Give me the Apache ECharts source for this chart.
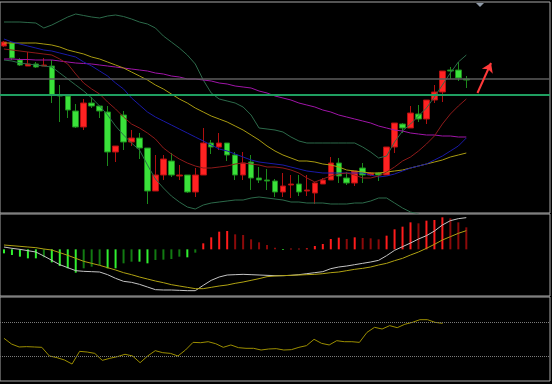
<!DOCTYPE html>
<html><head><meta charset="utf-8">
<script src="https://cdn.jsdelivr.net/npm/echarts@6/dist/echarts.min.js"></script>
<style>html,body{margin:0;padding:0;background:#000;}#c{width:552px;height:384px;}</style>
</head><body><div id="c"></div>
<script>
// category slots (59 trading days + empty space on the right)
const days = Array.from({length: 69}, (_, i) => 'D' + (i + 1));

// candles: [open, close, low, high]
const candles = [
 [18.4,18.8,18.3,18.9],[18.7,17.2,17.0,18.7],[17.0,16.5,16.4,17.2],[16.4,16.6,16.4,17.8],[16.6,16.3,16.2,16.8],
 [16.4,16.5,16.4,17.2],[16.4,13.5,12.7,17.0],[13.5,13.4,10.8,14.5],[13.4,12.0,11.2,13.5],[11.9,10.3,10.2,12.6],
 [10.3,12.7,10.0,13.1],[12.7,12.4,12.2,13.3],[12.4,11.9,11.2,12.4],[11.8,7.8,6.4,12.4],[7.8,8.4,6.8,8.4],
 [11.5,8.8,8.0,11.9],[8.8,9.2,8.4,10.0],[9.2,8.2,7.1,9.7],[8.2,3.9,2.6,8.2],[3.9,5.5,3.9,7.5],
 [5.5,7.1,5.0,7.5],[6.9,5.5,5.3,7.7],[5.4,5.5,5.0,6.5],[5.5,3.8,3.7,5.5],[3.8,5.5,3.3,6.2],
 [5.5,8.7,5.5,10.2],[8.7,8.3,7.6,9.0],[8.3,8.7,8.0,9.7],[8.7,7.5,6.9,8.7],[7.5,5.5,5.0,7.8],
 [5.5,6.7,5.0,7.8],[6.8,5.2,4.0,7.5],[5.2,5.0,4.7,6.3],[5.0,4.9,4.0,6.1],[4.9,3.8,3.3,5.1],
 [3.8,4.4,3.3,5.7],[4.5,4.6,3.2,5.5],[4.6,3.8,3.4,5.5],[3.9,4.0,3.4,5.5],[3.7,4.7,2.6,4.8],
 [4.6,5.0,4.6,5.2],[5.0,6.7,5.0,7.3],[6.7,5.4,4.7,7.2],[5.2,4.7,4.5,5.8],[4.7,5.9,4.4,5.9],
 [6.2,5.5,4.7,6.7],[5.5,5.7,5.4,5.8],[5.7,5.5,4.9,5.8],[5.5,8.3,5.5,8.3],[8.3,10.7,7.7,10.7],
 [10.6,10.2,9.7,10.7],[10.2,11.7,10.2,12.4],[11.6,11.1,10.8,12.5],[11.1,13.0,10.6,13.0],[13.0,13.8,12.7,14.5],
 [13.8,15.9,12.8,15.9],[16.0,15.9,15.1,16.3],[16.0,15.2,14.9,16.8],[15.1,15.0,14.2,15.4]
];

const bollUpper = [20.8,20.8,20.8,20.75,20.7,20.2,20.5,20.9,21.3,21.6,21.45,21.3,21.2,21.4,21.5,21.35,21.1,20.8,20.6,20.2,
 19.4,18.8,18.2,17.5,16.6,15.0,13.7,13.1,12.9,12.7,12.3,11.5,10.2,10.1,10.0,9.8,9.3,8.9,8.7,8.7,
 8.7,8.7,8.7,8.7,8.7,8.3,7.8,7.2,7.4,8.8,9.9,10.6,11.4,12.2,13.3,14.5,15.7,16.8,17.5];
const bollLower = [17.0,16.9,16.7,16.6,16.5,16.4,16.3,15.7,15.1,14.5,13.9,13.2,12.4,11.5,10.4,9.5,8.7,8.0,6.5,5.1,
 4.2,3.4,2.8,2.3,2.1,2.5,2.7,2.8,2.9,3.0,3.0,3.2,3.3,3.2,3.1,3.0,2.8,2.8,2.7,2.7,
 2.7,2.6,2.6,2.6,2.7,2.7,2.9,3.2,3.2,2.7,2.2,1.8,1.6,1.2,1.0,0.5,0.3,0.2,0.8];
const bollMid = [19.1,18.8,18.6,18.4,18.2,18.0,17.9,17.7,17.5,17.3,16.8,16.4,15.9,15.4,14.7,14.1,13.2,12.5,11.8,11.3,
 10.9,10.5,10.1,9.7,9.3,8.9,8.5,8.1,7.9,7.6,7.3,7.0,6.8,6.7,6.6,6.5,6.3,6.1,5.9,5.8,
 5.7,5.7,5.7,5.7,5.7,5.7,5.5,5.3,5.4,5.6,5.9,6.2,6.4,6.6,7.0,7.4,7.9,8.4,9.2];
const maShort = [18.1,18.0,17.9,17.8,17.7,17.6,17.5,17.1,16.6,15.6,14.7,14.1,13.6,12.8,12.1,11.3,10.6,10.2,9.7,9.1,
 8.2,7.6,7.1,6.7,6.4,6.2,6.2,6.3,6.4,6.6,6.7,6.6,6.5,6.3,6.3,6.2,6.0,5.7,5.2,4.8,
 5.1,5.4,5.6,5.7,5.5,5.2,5.2,5.4,5.8,6.3,6.9,7.3,7.9,8.6,9.4,10.6,11.6,12.4,13.1];
const maMid = [18.7,18.7,18.7,18.7,18.7,18.6,18.5,18.3,18.0,17.8,17.6,17.3,17.1,16.8,16.5,16.2,15.8,15.4,15.0,14.5,
 14.1,13.6,13.1,12.7,12.2,11.8,11.4,11.1,10.8,10.4,10.0,9.5,9.0,8.4,7.9,7.5,7.2,6.9,6.9,6.8,
 6.6,6.5,6.3,6.0,5.9,5.8,5.7,5.7,5.8,5.9,6.0,6.2,6.4,6.6,6.8,7.0,7.3,7.5,7.7];
const maLong = [17.1,17.1,17.05,17.05,17.0,17.0,17.0,16.9,16.8,16.7,16.65,16.6,16.5,16.4,16.3,16.2,16.1,16.0,15.9,15.7,
 15.6,15.4,15.3,15.1,15.1,15.0,14.9,14.7,14.6,14.4,14.3,14.2,13.9,13.7,13.4,13.2,13.0,12.7,12.5,12.3,
 12.0,11.8,11.5,11.3,11.1,10.9,10.7,10.4,10.2,10.0,9.9,9.7,9.6,9.5,9.5,9.4,9.4,9.3,9.3];
const levelGray = 15.1;
const levelGreen = 13.5;

// MACD
const dif = [0.07,0.03,0.00,-0.04,-0.08,-0.20,-0.33,-0.46,-0.55,-0.64,-0.66,-0.67,-0.68,-0.76,-0.87,-0.96,-0.99,-1.05,-1.13,-1.21,
 -1.22,-1.22,-1.23,-1.24,-1.24,-1.08,-0.93,-0.83,-0.77,-0.76,-0.75,-0.76,-0.77,-0.78,-0.79,-0.79,-0.78,-0.76,-0.73,-0.70,
 -0.67,-0.58,-0.53,-0.50,-0.46,-0.42,-0.38,-0.33,-0.19,-0.03,0.08,0.19,0.31,0.41,0.55,0.73,0.86,0.92,0.95];
const dea = [0.13,0.11,0.09,0.07,0.05,0.01,-0.02,-0.10,-0.18,-0.27,-0.36,-0.42,-0.48,-0.55,-0.62,-0.70,-0.76,-0.83,-0.89,-0.95,
 -1.00,-1.06,-1.10,-1.14,-1.18,-1.18,-1.14,-1.10,-1.07,-1.02,-0.98,-0.93,-0.88,-0.82,-0.80,-0.79,-0.78,-0.77,-0.76,-0.75,
 -0.73,-0.70,-0.68,-0.64,-0.60,-0.57,-0.53,-0.47,-0.42,-0.34,-0.27,-0.17,-0.08,0.03,0.15,0.28,0.38,0.48,0.56];
const macdHist = [-0.12,-0.17,-0.22,-0.27,-0.27,-0.24,-0.39,-0.50,-0.57,-0.70,-0.57,-0.52,-0.47,-0.57,-0.57,-0.42,-0.37,-0.37,-0.42,-0.32,
 -0.31,-0.29,-0.22,-0.24,-0.10,0.18,0.36,0.53,0.55,0.45,0.43,0.30,0.21,0.13,0.05,-0.02,0.02,0.02,0.03,0.10,
 0.16,0.31,0.35,0.31,0.36,0.34,0.33,0.30,0.41,0.60,0.68,0.81,0.78,0.86,0.88,0.96,0.93,0.81,0.66];

// RSI
const rsi = [50.8,44.0,40.5,40.9,40.5,40.1,29.8,27.8,25.0,20.2,35.3,34.5,32.9,24.6,27.0,29.0,31.8,29.8,21.8,29.8,
 36.1,33.7,32.9,29.8,36.9,46.0,45.6,46.8,44.4,40.1,42.9,39.7,38.9,38.9,36.9,38.1,38.5,36.9,37.3,40.1,
 42.1,49.6,44.8,42.9,48.0,46.8,46.8,46.0,57.9,63.9,61.9,65.9,63.5,67.5,69.8,73.0,73.0,69.8,68.7];
const rsiLevels = [70, 30];

// arrow annotation (in bar-slot units, price units)
const arrowFrom = [59.4, 13.7];
const arrowTo = [61.1, 16.7];

function histColor(i) {
  const v = macdHist[i], p = i > 0 ? macdHist[i - 1] : 0;
  const growing = Math.abs(v) >= Math.abs(p) || (v * p < 0);
  if (v >= 0) return growing ? '#ff1c1c' : '#8c0a0a';
  return growing ? '#30f030' : '#127a12';
}

const hiddenCat = {type: 'category', data: days, boundaryGap: true, axisLine: {show: false}, axisTick: {show: false}, axisLabel: {show: false}, splitLine: {show: false}};
const lineBase = {type: 'line', symbol: 'none', xAxisIndex: 0, yAxisIndex: 0, silent: true, clip: true};

const chart = echarts.init(document.getElementById('c'));
chart.setOption({
  backgroundColor: '#000',
  animation: false,
  grid: [
    {left: -2, top: 2, width: 552, height: 211, show: true, borderColor: '#a8a8a8', borderWidth: 1},
    {left: -2, top: 214, width: 552, height: 82, show: true, borderColor: '#a8a8a8', borderWidth: 1},
    {left: -2, top: 297, width: 552, height: 84, show: true, borderColor: '#a8a8a8', borderWidth: 1}
  ],
  xAxis: [
    Object.assign({gridIndex: 0}, hiddenCat),
    {type: 'value', gridIndex: 0, min: -0.5, max: 68.5, show: false},
    Object.assign({gridIndex: 1}, hiddenCat),
    {type: 'value', gridIndex: 2, min: -0.527, max: 72.2, show: false}
  ],
  yAxis: [
    {type: 'value', gridIndex: 0, min: 1.7, max: 22.8, show: false},
    {type: 'value', gridIndex: 1, min: -1.40, max: 1.06, show: false},
    {type: 'value', gridIndex: 2, min: 0, max: 100, show: false}
  ],
  graphic: [{
    type: 'polygon', shape: {points: [[476, 3], [484, 3], [480, 7]]},
    style: {fill: '#8f9aa8'}
  }],
  series: [
    {
      type: 'candlestick', xAxisIndex: 0, yAxisIndex: 0, data: candles, barWidth: 6, silent: true,
      itemStyle: {color: '#ff2222', color0: '#3ae23a', borderColor: '#b01010', borderColor0: '#1c8a1c', borderWidth: 1},
      markLine: {
        silent: true, symbol: ['none', 'none'], label: {show: false},
        data: [
          {yAxis: levelGray, lineStyle: {color: '#5c5c5c', width: 1.5, type: 'solid'}},
          {yAxis: levelGreen, lineStyle: {color: '#1f9e60', width: 2, type: 'solid'}}
        ]
      }
    },
    Object.assign({}, lineBase, {data: bollUpper, lineStyle: {color: '#2c6a4a', width: 1}}),
    Object.assign({}, lineBase, {data: bollLower, lineStyle: {color: '#2c6a4a', width: 1}}),
    Object.assign({}, lineBase, {data: maLong, lineStyle: {color: '#a015a8', width: 1}}),
    Object.assign({}, lineBase, {data: maMid, lineStyle: {color: '#a89a10', width: 1}}),
    Object.assign({}, lineBase, {data: bollMid, lineStyle: {color: '#1a1aa8', width: 1}}),
    Object.assign({}, lineBase, {data: maShort, lineStyle: {color: '#8e1a1a', width: 1}}),
    {
      type: 'line', xAxisIndex: 1, yAxisIndex: 0, data: [], symbol: 'none', silent: true,
      markLine: {
        silent: true, symbol: ['none', 'arrow'], symbolSize: 9, label: {show: false},
        lineStyle: {color: '#ff3a3a', width: 2, type: 'solid'},
        data: [[{coord: arrowFrom}, {coord: arrowTo}]]
      }
    },
    {
      type: 'bar', xAxisIndex: 2, yAxisIndex: 1, barWidth: 2, silent: true,
      data: macdHist.map((v, i) => ({value: v, itemStyle: {color: histColor(i)}}))
    },
    {type: 'line', xAxisIndex: 2, yAxisIndex: 1, data: dif, symbol: 'none', silent: true, lineStyle: {color: '#c4c4c4', width: 1}},
    {type: 'line', xAxisIndex: 2, yAxisIndex: 1, data: dea, symbol: 'none', silent: true, lineStyle: {color: '#b0a212', width: 1}},
    {
      type: 'line', xAxisIndex: 3, yAxisIndex: 2, data: rsi.map((v, i) => [i, v]), symbol: 'none', silent: true,
      lineStyle: {color: '#9c8e00', width: 1},
      markLine: {
        silent: true, symbol: ['none', 'none'], label: {show: false},
        lineStyle: {color: '#7a7a7a', width: 1, type: 'dotted'},
        data: rsiLevels.map(v => ({yAxis: v}))
      }
    }
  ]
});
</script>
</body></html>
